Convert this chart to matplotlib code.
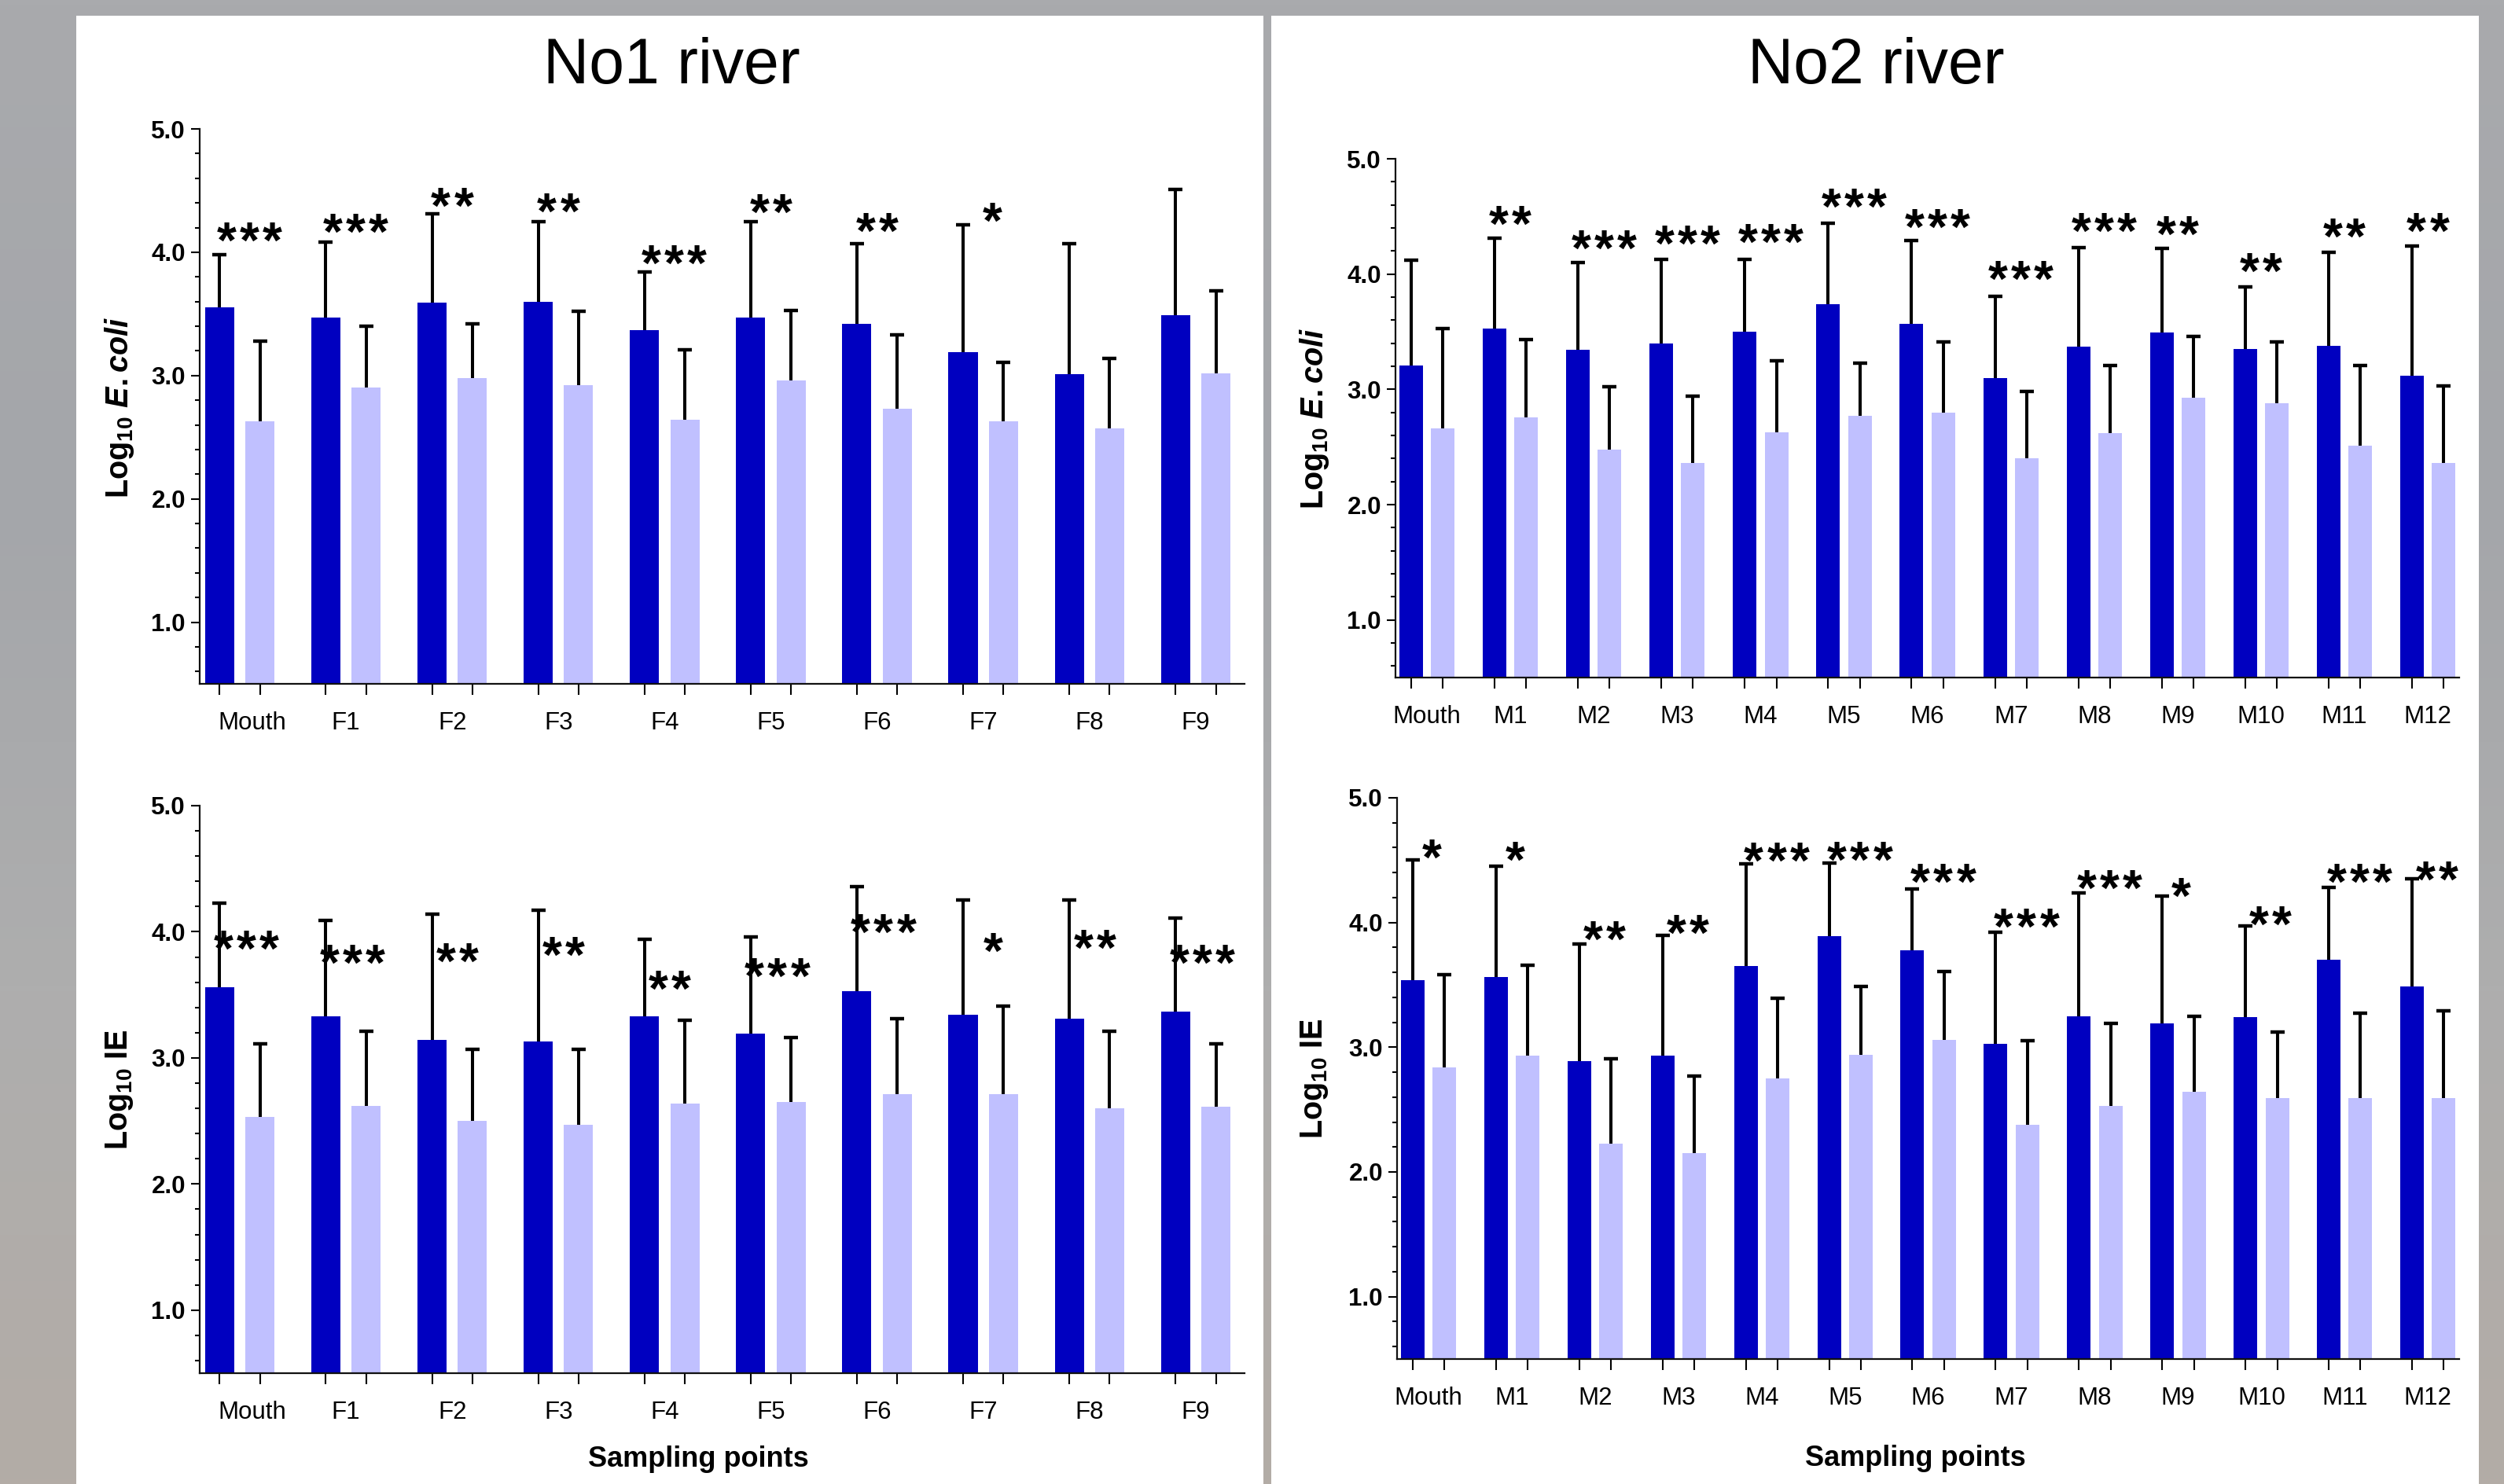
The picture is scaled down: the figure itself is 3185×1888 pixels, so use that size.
import numpy as np
import matplotlib
matplotlib.use("Agg")
import matplotlib.pyplot as plt
import matplotlib.transforms as mtransforms
from matplotlib.colors import LinearSegmentedColormap
from matplotlib.patches import Rectangle
from matplotlib.ticker import FixedLocator, FormatStrFormatter

plt.rcParams['font.family'] = ['Liberation Sans', 'DejaVu Sans']
plt.rcParams['mathtext.fontset'] = 'custom'
plt.rcParams['mathtext.rm'] = 'Liberation Sans:bold'
plt.rcParams['mathtext.it'] = 'Liberation Sans:italic:bold'
plt.rcParams['mathtext.bf'] = 'Liberation Sans:bold'

# ---- data ----
no1_sites = ["Mouth", "F1", "F2", "F3", "F4", "F5", "F6", "F7", "F8", "F9"]
no2_sites = ["Mouth", "M1", "M2", "M3", "M4", "M5", "M6", "M7", "M8", "M9", "M10", "M11", "M12"]

# No1 river, E.coli
no1_ecoli_a = [3.55, 3.47, 3.59, 3.60, 3.37, 3.47, 3.42, 3.19, 3.01, 3.49]
no1_ecoli_a_sd = [0.43, 0.61, 0.72, 0.65, 0.47, 0.78, 0.65, 1.03, 1.06, 1.02]
no1_ecoli_b = [2.63, 2.90, 2.98, 2.92, 2.64, 2.96, 2.73, 2.63, 2.57, 3.02]
no1_ecoli_b_sd = [0.65, 0.50, 0.44, 0.60, 0.57, 0.57, 0.60, 0.48, 0.57, 0.67]
no1_ecoli_sig = ["***", "***", "**", "**", "***", "**", "**", "*", "", ""]
no1_ecoli_sig_y = [4.19, 4.26, 4.47, 4.43, 4.01, 4.42, 4.27, 4.35, 0, 0]

# No1 river, IE
no1_ie_a = [3.56, 3.33, 3.14, 3.13, 3.33, 3.19, 3.53, 3.34, 3.31, 3.37]
no1_ie_a_sd = [0.67, 0.76, 1.00, 1.04, 0.61, 0.77, 0.83, 0.91, 0.94, 0.74]
no1_ie_b = [2.53, 2.62, 2.50, 2.47, 2.64, 2.65, 2.71, 2.71, 2.60, 2.61]
no1_ie_b_sd = [0.58, 0.59, 0.57, 0.60, 0.66, 0.51, 0.60, 0.70, 0.61, 0.50]
no1_ie_sig = ["***", "***", "**", "**", "**", "***", "***", "*", "**", "***"]
no1_ie_sig_y = [3.96, 3.85, 3.86, 3.91, 3.64, 3.74, 4.09, 3.94, 3.97, 3.85]

# No2 river, E.coli
no2_ecoli_a = [3.21, 3.53, 3.34, 3.40, 3.50, 3.74, 3.57, 3.10, 3.37, 3.49, 3.35, 3.38, 3.12]
no2_ecoli_a_sd = [0.91, 0.78, 0.76, 0.73, 0.63, 0.70, 0.72, 0.71, 0.86, 0.73, 0.54, 0.81, 1.12]
no2_ecoli_b = [2.66, 2.76, 2.48, 2.36, 2.63, 2.77, 2.80, 2.40, 2.62, 2.93, 2.88, 2.51, 2.36]
no2_ecoli_b_sd = [0.87, 0.67, 0.54, 0.58, 0.62, 0.46, 0.61, 0.58, 0.59, 0.53, 0.53, 0.70, 0.67]
no2_ecoli_sig = ["", "**", "***", "***", "***", "***", "***", "***", "***", "**", "**", "**", "**"]
no2_ecoli_sig_y = [0, 4.54, 4.33, 4.37, 4.38, 4.69, 4.51, 4.06, 4.48, 4.45, 4.13, 4.43, 4.48]

# No2 river, IE
no2_ie_a = [3.54, 3.56, 2.89, 2.93, 3.65, 3.89, 3.78, 3.03, 3.25, 3.19, 3.24, 3.70, 3.49]
no2_ie_a_sd = [0.96, 0.89, 0.94, 0.97, 0.82, 0.59, 0.49, 0.89, 0.99, 1.02, 0.73, 0.58, 0.86]
no2_ie_b = [2.84, 2.93, 2.23, 2.15, 2.75, 2.94, 3.06, 2.38, 2.53, 2.64, 2.59, 2.59, 2.59]
no2_ie_b_sd = [0.74, 0.73, 0.68, 0.62, 0.64, 0.55, 0.55, 0.67, 0.66, 0.61, 0.53, 0.68, 0.70]
no2_ie_sig = ["*", "*", "**", "**", "***", "***", "***", "***", "***", "*", "**", "***", "**"]
no2_ie_sig_y = [4.62, 4.60, 3.96, 4.01, 4.59, 4.60, 4.42, 4.06, 4.37, 4.31, 4.08, 4.42, 4.44]

DARK = "#0000c0"
LIGHT = "#c0c0ff"

W, H = 3185, 1888
fig = plt.figure(figsize=(W / 100, H / 100), dpi=100)


def fx(x): return x / W
def fy(y): return 1 - y / H


# ---- slide-like background: grey strip + two white panels ----
bg = fig.add_axes([0, 0, 1, 1], zorder=-10)
cmap = LinearSegmentedColormap.from_list("bg", ["#a9aaad", "#a4a6aa", "#aeaeae", "#b3aca6"])
bg.imshow(np.linspace(0, 1, 256)[:, None], cmap=cmap, aspect="auto", extent=[0, 1, 0, 1])
bg.axis("off")
for x0, x1 in [(97, 1607), (1617, 3153)]:
    fig.add_artist(Rectangle((fx(x0), 0), (x1 - x0) / W, 1 - 20 / H, transform=fig.transFigure,
                             facecolor="white", edgecolor="none", zorder=-5))

panels = [
    dict(sites=no1_sites, a=no1_ecoli_a, asd=no1_ecoli_a_sd, b=no1_ecoli_b, bsd=no1_ecoli_b_sd,
         sig=no1_ecoli_sig, sig_y=no1_ecoli_sig_y, rect=(254, 164, 1583, 870), xlim=(-0.3775, 9.46),
         bw=0.274, shift={1: 0.085, 2: 0.0, 3: 0.09}, mouth_dx=11,
         ylabel=r"Log$_{10}$ $E.coli$", ylab_xy=(152, 518), xlabel_xy=None),
    dict(sites=no1_sites, a=no1_ie_a, asd=no1_ie_a_sd, b=no1_ie_b, bsd=no1_ie_b_sd,
         sig=no1_ie_sig, sig_y=no1_ie_sig_y, rect=(254, 1025, 1583, 1747), xlim=(-0.3775, 9.46),
         bw=0.274, shift={1: 0.09, 2: 0.05, 3: 0.06}, mouth_dx=11,
         ylabel=r"Log$_{10}$ IE", ylab_xy=(152, 1386), xlabel_xy=(888, 1866)),
    dict(sites=no2_sites, a=no2_ecoli_a, asd=no2_ecoli_a_sd, b=no2_ecoli_b, bsd=no2_ecoli_b_sd,
         sig=no2_ecoli_sig, sig_y=no2_ecoli_sig_y, rect=(1775, 202, 3128, 862), xlim=(-0.377, 12.375),
         bw=0.283, shift={1: 0.03, 2: 0.0, 3: 0.12}, mouth_dx=0,
         ylabel=r"Log$_{10}$ $E.coli$", ylab_xy=(1672, 532), xlabel_xy=None),
    dict(sites=no2_sites, a=no2_ie_a, asd=no2_ie_a_sd, b=no2_ie_b, bsd=no2_ie_b_sd,
         sig=no2_ie_sig, sig_y=no2_ie_sig_y, rect=(1777, 1015, 3128, 1729), xlim=(-0.377, 12.375),
         bw=0.283, shift={1: 0.04, 2: 0.11, 3: 0.18}, mouth_dx=0,
         ylabel=r"Log$_{10}$ IE", ylab_xy=(1672, 1372), xlabel_xy=(2436, 1865)),
]

OFF = 0.19
STAR_FS = 46
STAR_PITCH = 21  # points between asterisks


def up_errorbar(ax, x, y, sd):
    # only the upper whisker, no cap at the bar top
    _, caps, _ = ax.errorbar(x, y, yerr=[np.zeros(len(x)), sd], fmt="none", ecolor="black",
                             elinewidth=2.9, capsize=6.5, capthick=3.2, zorder=3)
    caps[0].set_visible(False)


for p in panels:
    l, t, r, b = p["rect"]
    ax = fig.add_axes([fx(l), fy(b), (r - l) / W, (b - t) / H])
    ax.set_facecolor("none")
    x = np.arange(len(p["sites"]))
    ax.bar(x - OFF, p["a"], width=p["bw"], color=DARK, linewidth=0, zorder=2)
    ax.bar(x + OFF, p["b"], width=p["bw"], color=LIGHT, linewidth=0, zorder=2)
    up_errorbar(ax, x - OFF, p["a"], p["asd"])
    up_errorbar(ax, x + OFF, p["b"], p["bsd"])

    # significance stars, one glyph at a time to get the wide spacing
    for i, (s, sy) in enumerate(zip(p["sig"], p["sig_y"])):
        n = len(s)
        if n == 0:
            continue
        xc = i + p["shift"][n]
        for k in range(n):
            ax.annotate("*", (xc, sy), xytext=((k - (n - 1) / 2) * STAR_PITCH, -0.58 * STAR_FS),
                        textcoords="offset points", ha="center", va="baseline",
                        fontsize=STAR_FS, fontweight="bold", zorder=4)

    ax.set_xlim(*p["xlim"])
    ax.set_ylim(0.5, 5.0)
    for side in ("top", "right"):
        ax.spines[side].set_visible(False)
    for side in ("left", "bottom"):
        ax.spines[side].set_linewidth(1.6)
        ax.spines[side].set_color("#111111")

    ax.set_yticks([1, 2, 3, 4, 5])
    ax.yaxis.set_major_formatter(FormatStrFormatter("%.1f"))
    ax.yaxis.set_minor_locator(FixedLocator(np.arange(0.6, 5.0, 0.2)))
    ax.tick_params(axis="y", which="major", length=8, width=1.5, pad=5, labelsize=22.5)
    ax.tick_params(axis="y", which="minor", length=4.3, width=1.5)
    for lab in ax.get_yticklabels():
        lab.set_fontweight("bold")

    ax.set_xticks(np.concatenate([x - OFF, x + OFF]))
    ax.set_xticklabels([])
    ax.set_xticks(x, p["sites"], minor=True)
    ax.tick_params(axis="x", which="major", length=10, width=1.5)
    ax.tick_params(axis="x", which="minor", length=0, pad=25, labelsize=22.5)
    if p["mouth_dx"]:
        first = ax.get_xticklabels(minor=True)[0]
        first.set_transform(first.get_transform() +
                            mtransforms.ScaledTranslation(p["mouth_dx"] / 72, 0, fig.dpi_scale_trans))

    fig.text(fx(p["ylab_xy"][0]), fy(p["ylab_xy"][1]), p["ylabel"], rotation=90,
             ha="center", va="center", fontsize=28.5, fontweight="bold")
    if p["xlabel_xy"]:
        fig.text(fx(p["xlabel_xy"][0]), fy(p["xlabel_xy"][1]), "Sampling points",
                 ha="center", va="baseline", fontsize=26, fontweight="bold")

fig.text(fx(854), fy(106), "No1 river", ha="center", va="baseline", fontsize=58)
fig.text(fx(2386), fy(106), "No2 river", ha="center", va="baseline", fontsize=58)

fig.savefig("out.png", dpi=100)
